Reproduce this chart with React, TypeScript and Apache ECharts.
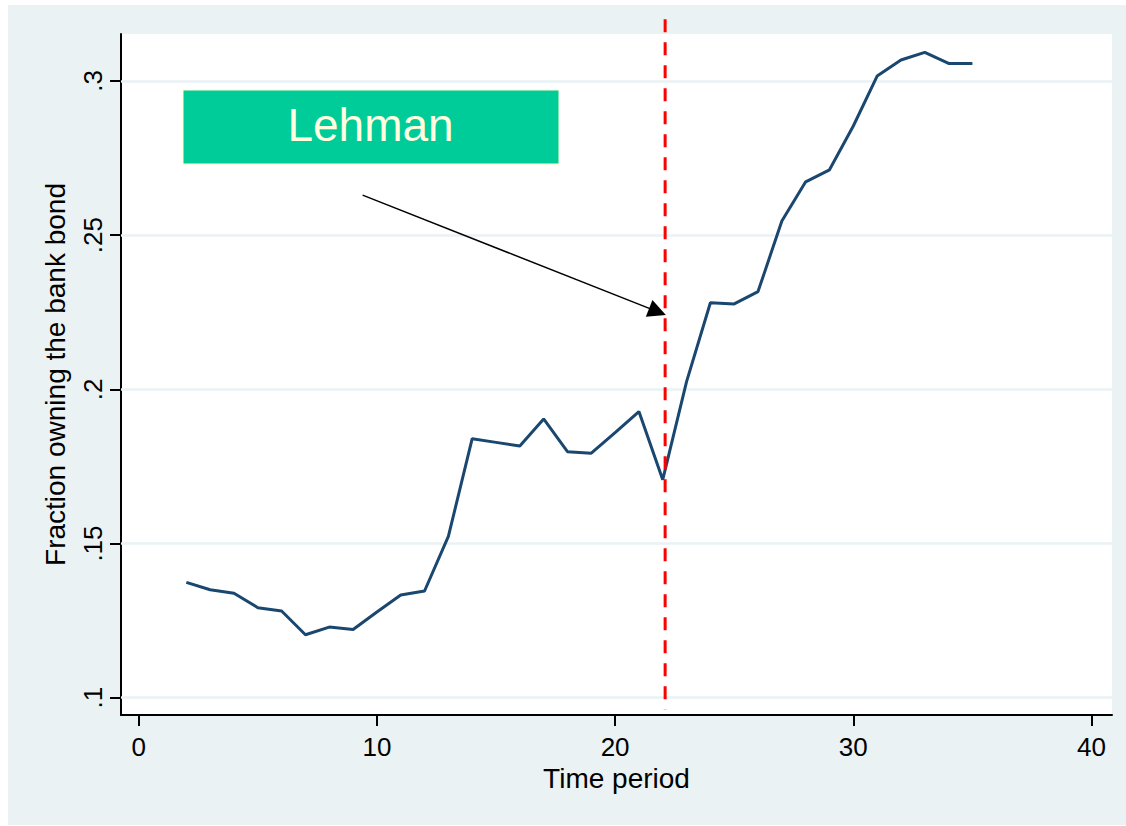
import React, { useEffect, useRef } from "react";
import * as echarts from "echarts";

const periods = [2, 3, 4, 5, 6, 7, 8, 9, 10, 11, 12, 13, 14, 15, 16, 17, 18, 19, 20, 21, 22, 23, 24, 25, 26, 27, 28, 29, 30, 31, 32, 33, 34, 35];
const fractionOwning = [
  0.1374, 0.135, 0.1339, 0.1292, 0.1281, 0.1204, 0.1229, 0.1221, 0.1278, 0.1333,
  0.1346, 0.1523, 0.184, 0.1828, 0.1816, 0.1904, 0.1798, 0.1793, 0.186, 0.1928,
  0.1707, 0.2025, 0.2281, 0.2277, 0.2317, 0.2546, 0.2673, 0.2712, 0.2854, 0.3016,
  0.3068, 0.3093, 0.3057, 0.3057,
];
const xTicks = [0, 10, 20, 30, 40];
const yTicks = [0.1, 0.15, 0.2, 0.25, 0.3];
const lehmanX = [22.1, 22.1];
const lehmanY = [0.32, 0.0962];
const arrowStart = [9.4, 0.263];
const arrowEnd = [21.78, 0.2252];
const annotationText = "Lehman";
const xTitle = "Time period";
const yTitle = "Fraction owning the bank bond";

const FONT = "'Liberation Sans', Arial, Helvetica, sans-serif";

export default function App() {
  const ref = useRef<HTMLDivElement>(null);
  useEffect(() => {
    if (!ref.current) return;
    const chart = echarts.init(ref.current, null, { renderer: "svg" });
    const fmt = (v: number) => String(v).replace(/^0/, "");
    chart.setOption({
      animation: false,
      backgroundColor: "#eaf2f3",
      textStyle: { fontFamily: FONT },
      grid: {
        left: 113,
        top: 29,
        right: 14,
        bottom: 110,
        show: true,
        backgroundColor: "#ffffff",
        borderWidth: 0,
      },
      xAxis: {
        type: "value",
        min: -0.743,
        max: 40.86,
        name: xTitle,
        nameLocation: "middle",
        nameGap: 46,
        nameTextStyle: { fontSize: 28, color: "#000", fontFamily: FONT },
        axisLine: { show: true, onZero: false, lineStyle: { color: "#000", width: 2 } },
        axisTick: { show: true, length: 11, customValues: xTicks, lineStyle: { color: "#000", width: 2 } },
        axisLabel: { customValues: xTicks, fontSize: 26, color: "#000", margin: 19, fontFamily: FONT, formatter: (v: number) => String(v) },
        splitLine: { show: false },
      },
      yAxis: {
        type: "value",
        min: 0.09439,
        max: 0.31524,
        name: yTitle,
        nameLocation: "middle",
        nameGap: 52,
        nameTextStyle: { fontSize: 28, color: "#000", fontFamily: FONT },
        axisLine: { show: true, onZero: false, lineStyle: { color: "#000", width: 2 } },
        axisTick: { show: true, length: 11, customValues: yTicks, lineStyle: { color: "#000", width: 2 } },
        axisLabel: { customValues: yTicks, fontSize: 26, color: "#000", margin: 15, rotate: 90, fontFamily: FONT, formatter: fmt },
        splitLine: { show: false },
      },
      graphic: [
        {
          type: "rect",
          shape: { x: 175, y: 85, width: 376, height: 74 },
          style: { fill: "#00cc99", stroke: "#ffffcc", lineWidth: 1 },
          z: 10,
        },
        {
          type: "text",
          x: 362.5,
          y: 120,
          style: {
            text: annotationText,
            fill: "#ffffe0",
            fontSize: 46,
            fontFamily: FONT,
            textAlign: "center",
            textVerticalAlign: "middle",
          },
          z: 11,
        },
      ],
      series: [
        {
          type: "line",
          data: [],
          silent: true,
          z: 1,
          markLine: {
            silent: true,
            z: 1,
            symbol: "none",
            label: { show: false },
            lineStyle: { color: "#eaf2f3", width: 2.5, type: "solid" },
            data: yTicks.map((v) => ({ yAxis: v })),
          },
        },
        {
          type: "line",
          data: periods.map((p, i) => [p, fractionOwning[i]]),
          showSymbol: false,
          symbol: "none",
          lineStyle: { color: "#1a476f", width: 3 },
          z: 3,
        },
        {
          type: "line",
          data: lehmanX.map((x, i) => [x, lehmanY[i]]),
          showSymbol: false,
          symbol: "none",
          clip: false,
          lineStyle: { color: "#ff0000", width: 3, type: [13, 10] },
          z: 4,
        },
        {
          type: "lines",
          coordinateSystem: "cartesian2d",
          data: [{ coords: [arrowStart, arrowEnd] }],
          symbol: ["none", "triangle"],
          symbolSize: 18,
          lineStyle: { color: "#000", width: 1.5, opacity: 1 },
          itemStyle: { color: "#000" },
          z: 5,
        },
      ],
    });
    return () => chart.dispose();
  }, []);
  return (
    <div
      ref={ref}
      style={{ position: "absolute", left: 8, top: 5, width: 1118, height: 820 }}
    />
  );
}
